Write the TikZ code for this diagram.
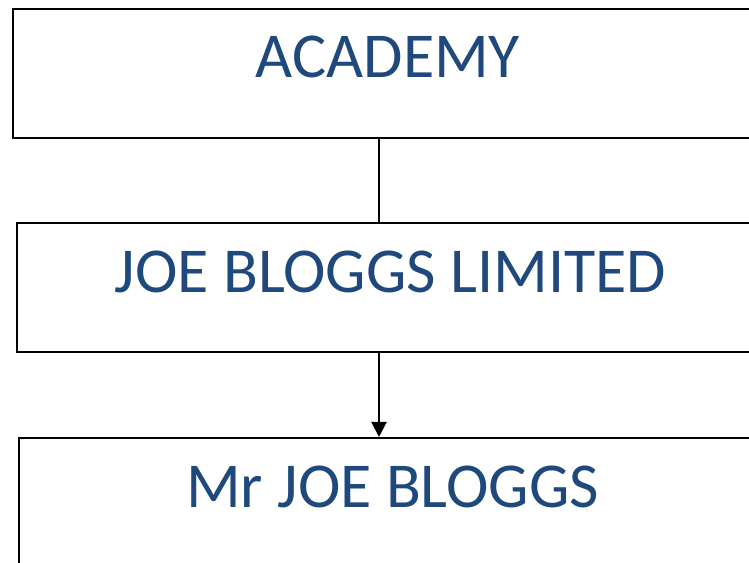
\documentclass[tikz,border=0pt]{standalone}
\usepackage{fontspec}
\setmainfont{Carlito}
\usetikzlibrary{arrows.meta}
\definecolor{txtblue}{HTML}{1F497D}
\begin{document}
\begin{tikzpicture}[x=1pt,y=1pt,
  box/.style={draw=black,line width=2pt,fill=white,inner sep=0pt,anchor=north west},
  lbl/.style={text=txtblue,font=\fontsize{64}{70}\selectfont,anchor=base,inner sep=0pt},
  conn/.style={draw=black,line width=2pt}]
\useasboundingbox (0,0) rectangle (749,562);
\clip (0,0) rectangle (749,562);
\node[box,minimum width=752pt,minimum height=129pt] (b1) at (12,554) {};
\node[box,minimum width=752pt,minimum height=129pt] (b2) at (16,340) {};
\node[box,minimum width=752pt,minimum height=160pt] (b3) at (18,125) {};
\node[lbl] (t1) at (388,484.7) {ACADEMY};
\node[lbl] (t2) at (390.5,269.7) {JOE BLOGGS LIMITED};
\node[lbl] (t3) at (392.5,54.7) {Mr JOE BLOGGS};
\coordinate (cx) at (379,0);
\draw[conn] (b1.south -| cx) -- (b2.north -| cx);
\draw[conn,-{Triangle[length=15pt,width=15pt]}] (b2.south -| cx) -- (b3.north -| cx);
\end{tikzpicture}
\end{document}
